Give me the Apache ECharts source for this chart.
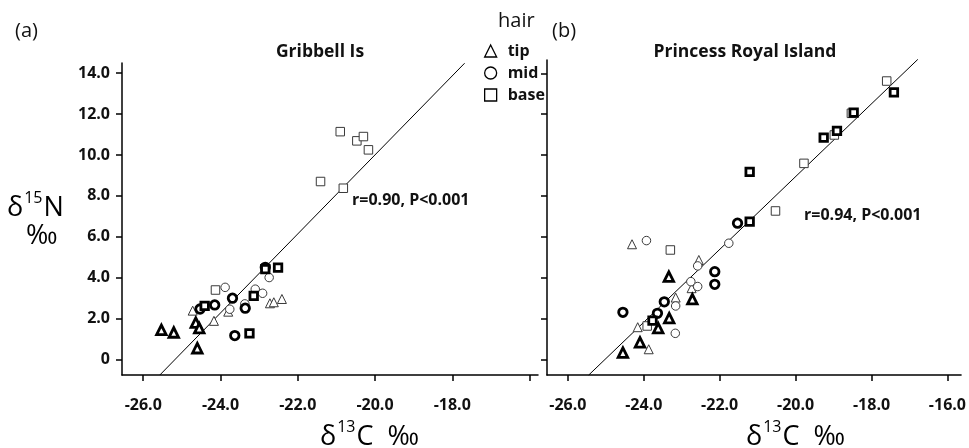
<!DOCTYPE html>
<html><head><meta charset="utf-8">
<script src="https://cdn.jsdelivr.net/npm/echarts@6/dist/echarts.min.js"></script>
<style>html,body{margin:0;padding:0;background:#fff}#c{width:969px;height:448px}</style>
</head><body><div id="c"></div>
<script>
// ---- tick values ----
const xTickValues = [-26, -24, -22, -20, -18, -16];
const xLabelValuesA = [-26, -24, -22, -20, -18];
const xLabelValuesB = [-26, -24, -22, -20, -18, -16];
const yTickValues = [0, 2, 4, 6, 8, 10, 12, 14];

// ---- (a) Gribbell Is : [d13C, d15N] ----
const gribTipThin = [[-24.72,2.38],[-24.17,1.88],[-23.80,2.33],[-22.72,2.74],[-22.62,2.79],[-22.41,2.95]];
const gribTipThick = [[-25.53,1.44],[-25.21,1.31],[-24.64,1.79],[-24.55,1.52],[-24.60,0.54]];
const gribMidThin = [[-23.88,3.52],[-23.76,2.45],[-23.37,2.71],[-23.10,3.43],[-22.91,3.23],[-22.74,4.00]];
const gribMidThick = [[-23.69,2.99],[-23.63,1.16],[-23.36,2.50],[-24.15,2.66],[-24.53,2.46],[-22.84,4.50]];
const gribBaseThin = [[-20.90,11.14],[-20.47,10.69],[-20.30,10.90],[-20.17,10.25],[-21.41,8.70],[-20.82,8.37],[-24.13,3.39]];
const gribBaseThick = [[-24.41,2.61],[-23.25,1.27],[-23.14,3.10],[-22.84,4.41],[-22.51,4.49]];
const gribFit = [[-25.57,-0.77],[-17.68,14.49]];

// ---- (b) Princess Royal Island ----
const princeTipThin = [[-24.31,5.63],[-22.55,4.86],[-22.74,3.48],[-23.16,3.02],[-24.16,1.57],[-23.87,0.49]];
const princeTipThick = [[-23.34,4.05],[-22.72,2.94],[-23.33,2.01],[-23.62,1.52],[-24.10,0.83],[-24.55,0.33]];
const princeMidThin = [[-23.93,5.81],[-21.76,5.68],[-22.58,4.57],[-22.76,3.80],[-22.58,3.56],[-23.16,2.61],[-23.17,1.27]];
const princeMidThick = [[-21.53,6.66],[-22.13,4.29],[-22.13,3.67],[-23.46,2.81],[-23.64,2.25],[-24.55,2.30]];
const princeBaseThin = [[-17.60,13.62],[-18.53,12.04],[-18.98,10.98],[-19.78,9.59],[-20.53,7.26],[-23.30,5.35],[-23.91,1.63]];
const princeBaseThick = [[-17.41,13.07],[-18.47,12.07],[-18.91,11.18],[-19.26,10.85],[-21.21,9.17],[-21.21,6.74],[-23.77,1.89]];
const princeFit = [[-25.45,-0.77],[-16.78,14.68]];

const statA = 'r=0.90, P<0.001';
const statB = 'r=0.94, P<0.001';

const FONT = '"Open Sans", "DejaVu Sans", sans-serif';
const chart = echarts.init(document.getElementById('c'), null, {renderer: 'canvas'});

function sc(name, data, symbol, thick, idx) {
  const sizes = {triangle: thick ? 9.5 : 9, circle: thick ? 8.5 : 8.5, rect: thick ? 7.5 : 8.5};
  return {
    type: 'scatter', name, data, symbol, xAxisIndex: idx, yAxisIndex: idx,
    symbolSize: sizes[symbol],
    itemStyle: {color: '#fff', borderColor: thick ? '#000' : '#3a3a3a', borderWidth: thick ? 2.8 : 1, opacity: 1},
    z: thick ? 4 : 3, silent: true
  };
}
function fit(data, idx) {
  return {type: 'line', data, xAxisIndex: idx, yAxisIndex: idx, symbol: 'none', silent: true,
    lineStyle: {color: '#000', width: 1}, z: 2, clip: false};
}
const axisLineStyle = {color: '#000', width: 1.5};
function xAxis(idx, labels) {
  return {type: 'value', gridIndex: idx, min: -26.55, max: idx === 0 ? -15.78 : -15.64,
    axisLine: {show: true, onZero: false, lineStyle: axisLineStyle},
    axisTick: {show: true, length: 6, customValues: xTickValues, lineStyle: axisLineStyle},
    splitLine: {show: false},
    axisLabel: {customValues: labels, margin: 22, fontFamily: FONT, fontWeight: 'bold', fontSize: 16, color: '#111',
      formatter: v => v.toFixed(1)}
  };
}
function yAxis(idx, max) {
  return {type: 'value', gridIndex: idx, min: -0.77, max,
    axisLine: {show: true, onZero: false, lineStyle: axisLineStyle},
    axisTick: {show: true, length: 6, customValues: yTickValues, lineStyle: axisLineStyle},
    splitLine: {show: false},
    axisLabel: {show: idx === 0, customValues: yTickValues, margin: 12, fontFamily: FONT, fontWeight: 'bold', fontSize: 16, color: '#111',
      formatter: v => v === 0 ? '0' : v.toFixed(1)}
  };
}
const rich = {
  d: {fontFamily: FONT, fontSize: 27, color: '#111', lineHeight: 32, verticalAlign: 'bottom'},
  s: {fontFamily: FONT, fontSize: 16, color: '#111', lineHeight: 32, verticalAlign: 'top', padding: [0, 1, 0, 1]}
};

chart.setOption({
  animation: false,
  backgroundColor: '#fff',
  grid: [
    {left: 122, top: 63, width: 416, height: 312},
    {left: 547, top: 60, width: 422, height: 315}
  ],
  xAxis: [xAxis(0, xLabelValuesA), xAxis(1, xLabelValuesB)],
  yAxis: [yAxis(0, 14.5), yAxis(1, 14.65)],
  legend: {
    data: [{name: 'tip', icon: 'triangle'}, {name: 'mid', icon: 'circle'}, {name: 'base', icon: 'rect'}],
    orient: 'vertical', left: 479, top: 36, itemWidth: 12, itemHeight: 12, itemGap: 2,
    selectedMode: false,
    itemStyle: {color: '#fff', borderColor: '#000', borderWidth: 1.3},
    textStyle: {fontFamily: FONT, fontWeight: 'bold', fontSize: 16, color: '#111', lineHeight: 20, padding: [0, 0, 0, 6]}
  },
  title: [
    {text: '(a)', left: 10, top: 16, textStyle: {fontFamily: FONT, fontWeight: 'normal', fontSize: 20, color: '#111'}},
    {text: '(b)', left: 547, top: 16, textStyle: {fontFamily: FONT, fontWeight: 'normal', fontSize: 20, color: '#111'}},
    {text: 'hair', left: 493, top: 6, textStyle: {fontFamily: FONT, fontWeight: 'normal', fontSize: 20, color: '#111'}},
    {text: 'Gribbell Is', left: 315, top: 38, textAlign: 'center', textStyle: {fontFamily: FONT, fontWeight: 'bold', fontSize: 17.5, color: '#111'}},
    {text: 'Princess Royal Island', left: 740, top: 38, textAlign: 'center', textStyle: {fontFamily: FONT, fontWeight: 'bold', fontSize: 17.5, color: '#111'}}
  ],
  graphic: [
    {type: 'text', left: 352, top: 192, style: {text: statA, font: 'bold 16px ' + FONT, fill: '#111'}},
    {type: 'text', left: 804, top: 207, style: {text: statB, font: 'bold 16px ' + FONT, fill: '#111'}},
    {type: 'text', left: 7, top: 190, style: {text: '{d|δ}{s|15}{d|N}', rich}},
    {type: 'text', left: 26, top: 223, style: {text: '{d|‰}', rich}},
    {type: 'text', left: 320, top: 419, style: {text: '{d|δ}{s|13}{d|C  ‰}', rich}},
    {type: 'text', left: 746, top: 419, style: {text: '{d|δ}{s|13}{d|C  ‰}', rich}}
  ],
  series: [
    sc('tip', gribTipThin, 'triangle', false, 0),
    sc('tip', gribTipThick, 'triangle', true, 0),
    sc('mid', gribMidThin, 'circle', false, 0),
    sc('mid', gribMidThick, 'circle', true, 0),
    sc('base', gribBaseThin, 'rect', false, 0),
    sc('base', gribBaseThick, 'rect', true, 0),
    fit(gribFit, 0),
    sc('tip', princeTipThin, 'triangle', false, 1),
    sc('tip', princeTipThick, 'triangle', true, 1),
    sc('mid', princeMidThin, 'circle', false, 1),
    sc('mid', princeMidThick, 'circle', true, 1),
    sc('base', princeBaseThin, 'rect', false, 1),
    sc('base', princeBaseThick, 'rect', true, 1),
    fit(princeFit, 1)
  ]
});
</script>
</body></html>
